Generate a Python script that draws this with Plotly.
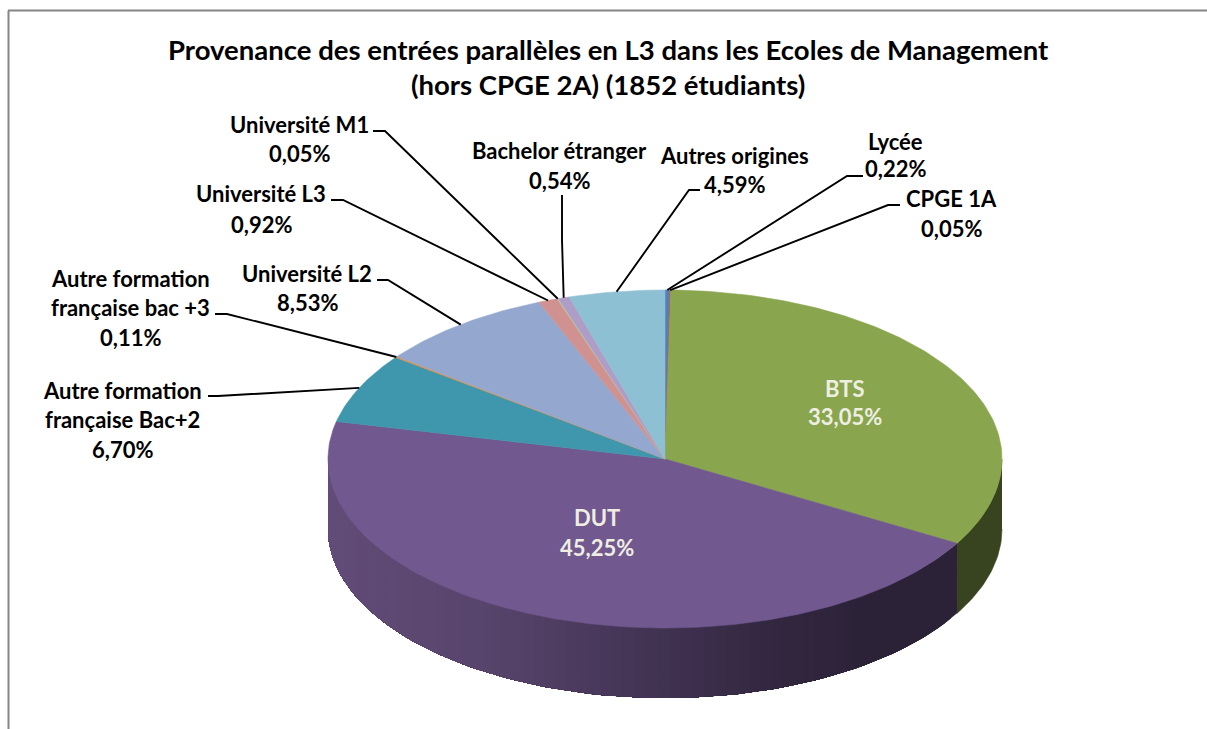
import math
import plotly.graph_objects as go

TITLE_LINES = ["Provenance des entrées parallèles en L3 dans les Ecoles de Management",
               "(hors CPGE 2A) (1852 étudiants)"]
categories = ["Lycée", "CPGE 1A", "BTS", "DUT", "Autre formation française Bac+2",
              "Autre formation française bac +3", "Université L2", "Université L3",
              "Université M1", "Bachelor étranger", "Autres origines"]
values = [0.22, 0.05, 33.05, 45.25, 6.70, 0.11, 8.53, 0.92, 0.05, 0.54, 4.59]
colors = ["#4f81bd", "#c0504d", "#89a54e", "#71588f", "#3f97ad", "#d99150",
          "#93a7cf", "#d09291", "#b8cd90", "#ae9dc6", "#8ec0d4"]
label_lines = [["Lycée"], ["CPGE 1A"], ["BTS"], ["DUT"],
               ["Autre formation", "française Bac+2"],
               ["Autre formation", "française bac +3"],
               ["Université L2"], ["Université L3"], ["Université M1"],
               ["Bachelor étranger"], ["Autres origines"]]

# layout (pixels of the 1207x729 page)
W, H = 1207, 729
CX, CY, RX, RY, DEPTH = 665, 459, 337, 169, 70
FONT = "Lato"
LABEL_SIZE = 22
TITLE_SIZE = 27.5
label_pos = {  # centre x, y of each line
    "Lycée": (895, [141, 168]),
    "CPGE 1A": (951, [198, 228]),
    "BTS": (845, [388, 416]),
    "DUT": (597, [517, 547]),
    "Autre formation française Bac+2": (122, [390, 419, 449]),
    "Autre formation française bac +3": (130, [278, 307, 337]),
    "Université L2": (307, [273, 302]),
    "Université L3": (261, [193, 224]),
    "Université M1": (299, [124, 153]),
    "Bachelor étranger": (559, [150, 180]),
    "Autres origines": (734, [155, 184]),
}
leader_pts = {  # text end, elbow; the third point comes from the slice
    "Lycée": [(863, 176), (847, 176)],
    "CPGE 1A": [(900, 205), (888, 205)],
    "Autre formation française Bac+2": [(208, 396), (218, 396)],
    "Autre formation française bac +3": [(215, 314), (227, 314)],
    "Université L2": [(377, 280), (388, 280)],
    "Université L3": [(331, 200), (343, 200)],
    "Université M1": [(373, 131), (385, 131)],
    "Bachelor étranger": [(562, 195), (562, 240)],
    "Autres origines": [(700, 190), (689, 190)],
}


def pt(deg, dy=0):
    a = math.radians(deg)
    return CX + RX * math.sin(a), CY - RY * math.cos(a) + dy


def steps(a0, a1, step=1.0):
    n = max(1, int(math.ceil((a1 - a0) / step)))
    return [a0 + (a1 - a0) * i / n for i in range(n + 1)]


def lerp_color(x):
    stops = [(328, (98, 76, 120)), (500, (86, 67, 106)), (620, (70, 54, 88)),
             (760, (52, 40, 66)), (860, (44, 34, 56)), (1010, (44, 34, 56))]
    for (x0, c0), (x1, c1) in zip(stops, stops[1:]):
        if x <= x1:
            t = (x - x0) / (x1 - x0)
            return "rgb(%d,%d,%d)" % tuple(round(c0[i] + (c1[i] - c0[i]) * t) for i in range(3))
    return "rgb(44,34,56)"


total = sum(values)
edges = [0.0]
for v in values:
    edges.append(edges[-1] + v / total * 360)

fig = go.Figure()


def poly(xs, ys, color, name, lw=0.6):
    fig.add_trace(go.Scatter(x=xs, y=ys, mode="lines", fill="toself", fillcolor=color,
                             line=dict(color=color, width=lw), name=name,
                             hoverinfo="name", showlegend=False))


# side wall: only the front half of the disc shows it
for name, a0, a1 in zip(categories, edges[:-1], edges[1:]):
    lo, hi = max(a0, 90), min(a1, 270)
    if lo >= hi:
        continue
    if name == "BTS":
        ang = steps(lo, hi)
        xs = [pt(a)[0] for a in ang] + [pt(a, DEPTH)[0] for a in reversed(ang)]
        ys = [pt(a)[1] for a in ang] + [pt(a, DEPTH)[1] for a in reversed(ang)]
        poly(xs, ys, "#38431f", name)
    else:
        # each strip runs on to the far end of the wall, the next one overpaints it: no seams
        ang = steps(lo, hi, 2.0)
        for s0, s1 in zip(ang[:-1], ang[1:]):
            tail = steps(s0, hi, 2.0)
            xs = [pt(a)[0] for a in tail] + [pt(a, DEPTH)[0] for a in reversed(tail)]
            ys = [pt(a)[1] for a in tail] + [pt(a, DEPTH)[1] for a in reversed(tail)]
            poly(xs, ys, lerp_color((pt(s0)[0] + pt(s1)[0]) / 2), name, lw=0)

# top face
for name, color, v, a0, a1 in zip(categories, colors, values, edges[:-1], edges[1:]):
    ang = steps(a0, a1)
    xs = [CX] + [pt(a)[0] for a in ang] + [CX]
    ys = [CY] + [pt(a)[1] for a in ang] + [CY]
    poly(xs, ys, color, f"{name}: {v:.2f}%".replace(".", ","))

# leader lines
for name, a0, a1 in zip(categories, edges[:-1], edges[1:]):
    if name in leader_pts:
        p = leader_pts[name] + [pt((a0 + a1) / 2)]
        fig.add_trace(go.Scatter(x=[q[0] for q in p], y=[q[1] for q in p], mode="lines",
                                 line=dict(color="#000000", width=1.9),
                                 hoverinfo="skip", showlegend=False))

annotations = []


def text(x, y, s, size, color="#000000"):
    annotations.append(dict(x=x, y=y, text=f"<b>{s}</b>", showarrow=False, xref="x", yref="y",
                            xanchor="center", yanchor="middle",
                            font=dict(family=FONT, size=size, color=color)))


for name, lines, v in zip(categories, label_lines, values):
    cx, ys = label_pos[name]
    col = "#eeeee2" if name in ("BTS", "DUT") else "#000000"
    for s, y in zip(lines + [f"{v:.2f}%".replace(".", ",")], ys):
        text(cx, y, s, LABEL_SIZE, col)
text(608, 49, TITLE_LINES[0], TITLE_SIZE)
text(608, 84, TITLE_LINES[1], TITLE_SIZE)

fig.update_layout(
    width=W, height=H, margin=dict(l=0, r=0, t=0, b=0),
    paper_bgcolor="white", plot_bgcolor="white", showlegend=False,
    xaxis=dict(range=[0, W], visible=False, fixedrange=True),
    yaxis=dict(range=[H, 0], visible=False, fixedrange=True),
    annotations=annotations,
    shapes=[dict(type="line", x0=8.5, x1=8.5, y0=10.5, y1=H, line=dict(color="#868686", width=2)),
            dict(type="line", x0=8, x1=W, y0=10.5, y1=10.5, line=dict(color="#868686", width=2))],
)
fig.write_html("out.html", config={"displayModeBar": False},
               post_script="document.body.style.margin='0';document.body.style.overflow='hidden';")
